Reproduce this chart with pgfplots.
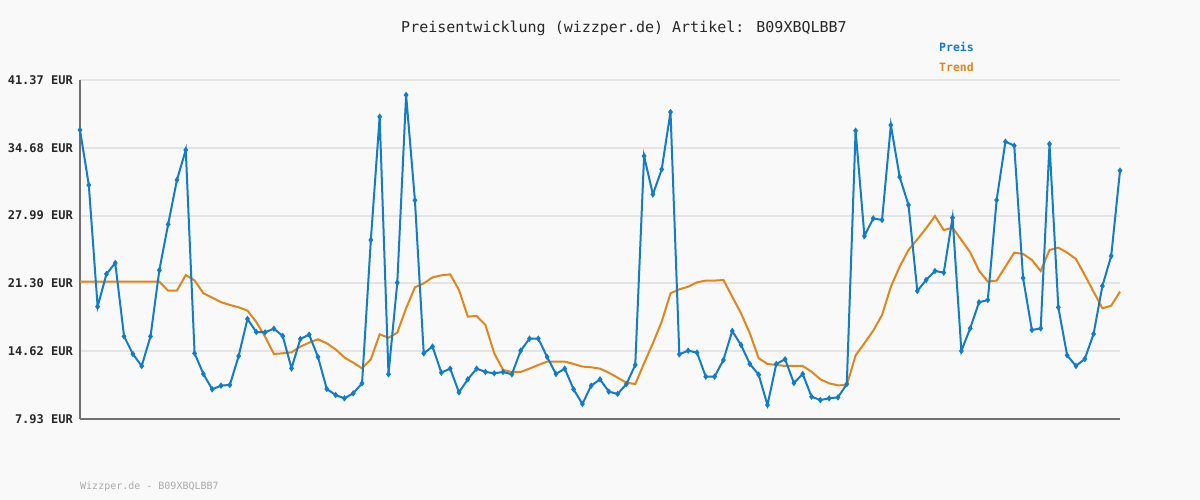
\documentclass[border=0pt]{standalone}
\usepackage{fontspec}
\setmainfont{DejaVu Sans Mono}
\usepackage{pgfplots}
\usepackage{pgfplotstable}
\pgfplotsset{compat=1.18}

\definecolor{bgc}{RGB}{249,249,249}
\definecolor{gridc}{RGB}{228,228,228}
\definecolor{axc}{RGB}{112,112,112}
\definecolor{labc}{RGB}{40,40,40}
\definecolor{preisc}{RGB}{18,124,200}
\definecolor{trendc}{RGB}{226,134,28}
\definecolor{footc}{RGB}{170,170,170}

% x = Messpunkt, preis = Preis in EUR, trend = gleitender Trend
\pgfplotstableread{
x preis trend
1 36.44 21.48
2 31.01 21.48
3 19.01 21.48
4 22.23 21.48
5 23.32 21.48
6 16.08 21.48
7 14.34 21.48
8 13.16 21.48
9 16.08 21.48
10 22.60 21.48
11 27.13 20.59
12 31.51 20.59
13 34.47 22.13
14 14.41 21.60
15 12.37 20.33
16 10.86 19.90
17 11.22 19.45
18 11.29 19.18
19 14.14 18.95
20 17.80 18.62
21 16.51 17.50
22 16.48 16.05
23 16.84 14.34
24 16.12 14.41
25 12.93 14.51
26 15.82 15.07
27 16.25 15.46
28 14.05 15.79
29 10.89 15.40
30 10.30 14.80
31 9.97 14.00
32 10.46 13.49
33 11.45 12.93
34 25.59 13.82
35 37.75 16.28
36 12.34 15.95
37 21.38 16.45
38 39.89 18.85
39 29.50 20.92
40 14.41 21.31
41 15.07 21.90
42 12.50 22.10
43 12.90 22.20
44 10.56 20.66
45 11.84 18.03
46 12.90 18.09
47 12.57 17.20
48 12.44 14.41
49 12.57 12.77
50 12.34 12.57
51 14.67 12.57
52 15.86 12.90
53 15.86 13.26
54 14.05 13.59
55 12.37 13.59
56 12.90 13.59
57 10.86 13.36
58 9.41 13.10
59 11.22 13.03
60 11.84 12.90
61 10.63 12.50
62 10.40 12.01
63 11.38 11.51
64 13.26 11.38
65 33.87 13.42
66 30.09 15.40
67 32.56 17.53
68 38.21 20.33
69 14.31 20.72
70 14.67 20.98
71 14.48 21.41
72 12.11 21.58
73 12.11 21.58
74 13.75 21.64
75 16.61 20.00
76 15.23 18.35
77 13.36 16.38
78 12.30 13.92
79 9.31 13.36
80 13.36 13.26
81 13.82 13.16
82 11.48 13.16
83 12.37 13.16
84 10.13 12.60
85 9.80 11.84
86 9.97 11.45
87 10.07 11.25
88 11.38 11.28
89 36.37 14.20
90 25.98 15.40
91 27.72 16.64
92 27.56 18.19
93 36.93 20.98
94 31.80 22.96
95 29.04 24.60
96 20.56 25.65
97 21.64 26.74
98 22.53 27.95
99 22.37 26.57
100 27.79 26.80
101 14.64 25.59
102 16.87 24.37
103 19.44 22.56
104 19.67 21.48
105 29.53 21.58
106 35.29 22.96
107 34.89 24.34
108 21.84 24.21
109 16.71 23.62
110 16.87 22.53
111 35.06 24.60
112 18.95 24.83
113 14.21 24.34
114 13.16 23.71
115 13.85 22.13
116 16.32 20.49
117 21.05 18.85
118 24.01 19.11
119 32.43 20.49
}\datatable

\begin{document}
\begin{tikzpicture}[x=1pt,y=1pt]
\fill[bgc] (0,0) rectangle (1200,500);
\begin{axis}[
    at={(80pt,81pt)}, anchor=south west,
    width=1040pt, height=339pt, scale only axis,
    xmin=1, xmax=119, ymin=7.93, ymax=41.37,
    axis lines*=left,
    axis line style={axc, line width=1.8pt},
    xtick=\empty,
    ytick={7.93,14.618,21.306,27.994,34.682,41.37},
    yticklabels={7.93 EUR,14.62 EUR,21.30 EUR,27.99 EUR,34.68 EUR,41.37 EUR},
    major tick length=0pt,
    yticklabel style={font=\fontsize{12}{14}\selectfont\bfseries, text=labc,
        anchor=east, inner sep=0pt, xshift=-7pt},
    ymajorgrids,
    grid style={gridc, line width=2pt},
    clip=false,
]
\addplot[trendc, line width=2pt] table[x=x, y=trend] {\datatable};
\addplot[preisc, line width=2pt, mark=diamond*, mark size=1.6pt,
    mark options={solid, fill=preisc}] table[x=x, y=preis] {\datatable};
\end{axis}
\node[font=\fontsize{15}{18}\selectfont, text=labc] at (624,472)
    {Preisentwicklung (wizzper.de) Artikel: B09XBQLBB7};
\node[font=\fontsize{11.5}{14}\selectfont\bfseries, text=preisc, anchor=west, inner sep=0pt] at (939,453) {Preis};
\node[font=\fontsize{11.5}{14}\selectfont\bfseries, text=trendc, anchor=west, inner sep=0pt] at (939,433) {Trend};
\node[font=\fontsize{10}{12}\selectfont, text=footc, anchor=west, inner sep=0pt] at (80,13) {Wizzper.de - B09XBQLBB7};
\end{tikzpicture}
\end{document}
